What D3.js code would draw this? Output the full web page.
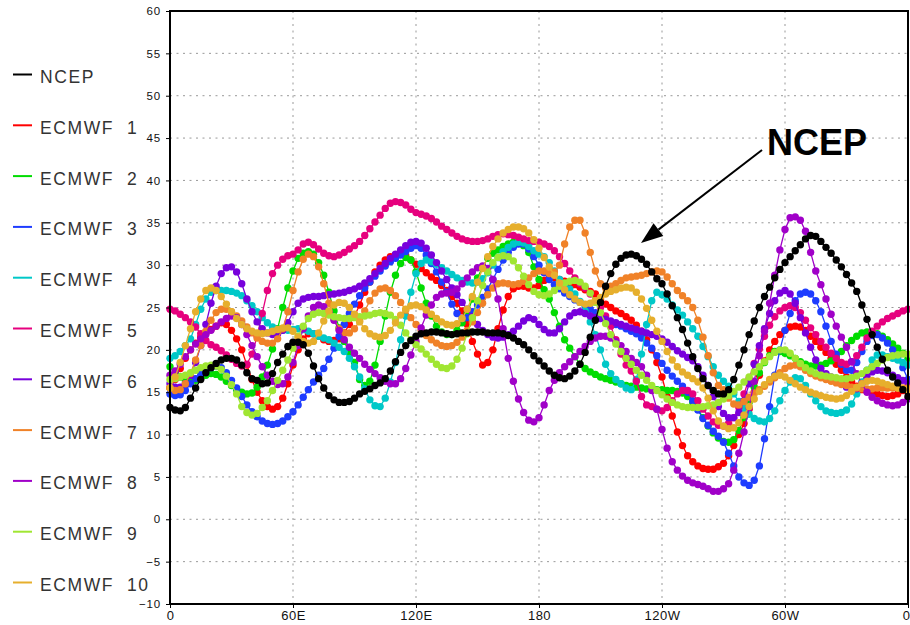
<!DOCTYPE html>
<html>
<head>
<meta charset="utf-8">
<script src="https://cdn.jsdelivr.net/npm/d3@7"></script>
<style>
  body { margin: 0; background: #fff; }
  svg { display: block; }
</style>
</head>
<body>
<svg id="chart" width="910" height="625"></svg>
<script>
// longitude grid, every 2.5 degrees from 0 to 360
const lons = d3.range(0, 360.1, 2.5);

const xTickValues = [0, 60, 120, 180, 240, 300, 360];
const xTickLabels = ["0", "60E", "120E", "180", "120W", "60W", "0"];
const yTickValues = d3.range(-10, 61, 5);

const seriesNames = [
  "NCEP", "ECMWF  1", "ECMWF  2", "ECMWF  3", "ECMWF  4", "ECMWF  5",
  "ECMWF  6", "ECMWF  7", "ECMWF  8", "ECMWF  9", "ECMWF  10"
];

const ncep = [
  13.2, 12.9, 12.8, 13.2, 14.3, 15.5, 16.5, 17.3, 17.9, 18.4,
  18.8, 19.0, 19.0, 18.8, 18.2, 17.3, 16.6, 16.4, 16.0, 16.1,
  17.2, 18.5, 19.5, 20.4, 20.9, 20.9, 20.6, 19.6, 18.1, 16.6,
  15.5, 14.6, 14.1, 13.8, 13.8, 13.9, 14.3, 14.8, 15.1, 15.4,
  15.8, 16.1, 16.6, 17.5, 18.6, 19.7, 20.5, 21.1, 21.6, 21.9,
  22.0, 22.1, 22.1, 22.0, 21.9, 21.8, 21.9, 22.0, 22.0, 22.1,
  22.1, 22.1, 22.0, 22.0, 22.0, 21.9, 21.7, 21.4, 21.0, 20.6,
  20.0, 19.3, 18.7, 18.1, 17.5, 17.0, 16.7, 16.6, 16.9, 17.5,
  18.3, 19.7, 21.5, 23.5, 25.6, 27.5, 29.0, 30.1, 30.8, 31.2,
  31.3, 31.1, 30.7, 30.1, 29.2, 28.4, 27.8, 26.6, 25.2, 23.8,
  22.4, 20.8, 19.2, 17.8, 16.6, 15.8, 15.2, 14.8, 14.8, 15.3,
  16.5, 18.2, 20.0, 21.8, 23.4, 25.0, 26.3, 27.4, 28.5, 29.5,
  30.3, 31.0, 31.7, 32.4, 33.1, 33.5, 33.4, 32.8, 32.1, 31.4,
  30.6, 29.8, 28.9, 27.9, 26.9, 25.3, 23.6, 21.8, 20.3, 18.9,
  17.6, 16.8, 16.1, 15.3, 14.5
];

const ecmwf1 = [
  15.5, 16.5, 17.8, 19.0, 20.0, 20.8, 21.5, 22.0, 22.4, 22.8,
  23.2, 23.0, 22.3, 21.3, 20.0, 18.2, 16.5, 15.0, 14.0, 13.3,
  13.0, 13.3, 14.3, 16.0, 18.2, 20.0, 21.3, 21.9, 21.9, 21.6,
  21.2, 21.0, 21.1, 21.3, 22.0, 23.0, 24.0, 25.3, 26.8, 28.0,
  29.2, 30.0, 30.6, 31.0, 31.2, 31.3, 31.1, 30.6, 30.1, 29.6,
  29.1, 28.6, 28.2, 27.6, 27.0, 26.3, 25.5, 24.6, 23.0, 21.0,
  19.5, 18.2, 18.5, 20.0, 22.5, 24.7, 26.3, 27.2, 27.5, 27.5,
  27.3, 27.3, 27.6, 28.2, 28.5, 28.5, 28.3, 28.1, 27.9, 27.7,
  27.4, 27.1, 26.9, 26.6, 26.0, 25.4, 25.0, 24.6, 24.3, 23.9,
  23.5, 22.9, 22.2, 21.2, 20.0, 18.5, 16.8, 14.5, 12.2, 10.3,
  8.7, 7.5, 6.8, 6.3, 6.0, 5.9, 5.9, 6.2, 6.6, 7.5,
  8.7, 10.0, 11.3, 13.0, 15.0, 17.0, 18.7, 20.0, 21.0, 21.8,
  22.3, 22.7, 22.8, 22.7, 22.3, 21.6, 21.0, 20.3, 19.7, 19.0,
  18.3, 17.6, 16.8, 16.2, 15.7, 15.3, 15.1, 15.0, 14.8, 14.6,
  14.5, 14.6, 14.8, 15.2, 15.6
];

const ecmwf2 = [
  18.0, 17.3, 16.8, 16.4, 16.3, 16.4, 16.7, 17.0, 17.2, 17.1,
  16.8, 16.3, 15.8, 15.3, 15.0, 14.8, 14.9, 15.6, 16.8, 18.2,
  20.1, 22.5, 25.0, 27.3, 29.3, 30.8, 31.4, 31.6, 31.3, 30.3,
  28.8, 26.8, 24.6, 22.6, 21.0, 19.7, 18.5, 16.5, 15.8, 16.3,
  18.2, 21.0, 24.0, 26.8, 28.8, 30.2, 30.9, 30.6, 29.2, 27.3,
  25.5, 24.0, 22.8, 22.1, 21.8, 21.8, 22.3, 23.2, 24.3, 26.0,
  28.5, 29.8, 30.8, 31.4, 31.8, 32.2, 32.5, 32.7, 32.6, 32.3,
  31.5, 29.8, 28.3, 27.1, 26.0, 24.4, 22.8, 21.2, 20.2, 19.2,
  18.3, 17.8, 17.4, 17.1, 16.8, 16.6, 16.4, 16.2, 16.0, 15.8,
  15.7, 15.6, 15.5, 15.4, 15.4, 15.3, 15.3, 15.2, 15.2, 15.1,
  14.9, 14.5, 13.8, 13.0, 12.0, 11.0, 10.2, 9.6, 9.2, 9.1,
  9.4, 10.5, 12.0, 13.8, 15.6, 17.3, 18.5, 19.3, 19.8, 19.8,
  19.6, 19.3, 19.0, 18.6, 18.3, 18.1, 18.1, 18.2, 18.4, 18.7,
  19.2, 19.8, 20.5, 21.1, 21.6, 22.0, 22.1, 22.1, 21.9, 21.6,
  21.2, 20.7, 20.2, 19.6, 19.0
];

const ecmwf3 = [
  14.8, 14.6, 14.7, 15.2, 16.0, 16.6, 17.1, 17.6, 17.9, 18.1,
  17.9, 17.3, 16.4, 15.5, 14.5, 13.5, 12.7, 12.1, 11.6, 11.3,
  11.2, 11.3, 11.6, 12.1, 12.7, 13.5, 14.4, 15.3, 16.2, 17.0,
  17.8, 18.9, 20.2, 21.6, 23.0, 24.3, 25.4, 26.4, 27.3, 28.0,
  28.7, 29.3, 29.9, 30.4, 30.8, 31.2, 31.6, 32.0, 32.3, 32.0,
  31.2, 30.2, 29.2, 28.0, 26.8, 25.4, 24.3, 23.7, 23.8, 24.5,
  25.3, 26.2, 27.2, 28.3, 29.5, 30.6, 31.5, 32.1, 32.5, 32.5,
  31.9, 31.0, 30.0, 29.1, 28.3, 27.7, 27.2, 26.7, 26.3, 25.9,
  25.6, 25.2, 24.8, 24.4, 24.0, 23.6, 23.3, 23.0, 22.8, 22.5,
  22.2, 21.9, 21.4, 20.8, 20.2, 19.3, 18.4, 17.6, 16.9, 16.3,
  15.7, 15.0, 14.0, 12.9, 11.9, 11.1, 10.4, 9.8, 9.1, 7.8,
  6.3, 5.0, 4.3, 4.0, 4.6, 6.3, 9.5, 13.3, 17.0, 20.0,
  22.3, 24.3, 25.8, 26.6, 26.8, 26.6, 25.8, 24.5, 22.8, 21.0,
  19.5, 18.3, 17.6, 17.6, 18.5, 19.8, 21.0, 21.7, 21.8, 21.4,
  20.8, 20.0, 19.1, 17.9, 16.5
];

const ecmwf4 = [
  19.0, 19.3, 19.8, 20.5, 21.3, 23.0, 24.8, 26.0, 26.8, 27.0,
  27.0, 27.0, 26.9, 26.7, 26.4, 25.8, 25.2, 24.5, 23.8, 23.2,
  22.7, 22.4, 22.3, 22.3, 22.4, 22.5, 22.4, 22.2, 21.9, 21.6,
  21.4, 21.2, 20.8, 20.3, 19.8, 19.0, 18.0, 16.8, 15.4, 14.1,
  13.4, 13.3, 14.3, 16.2, 18.5, 21.2, 24.0, 26.8, 29.0, 30.2,
  30.6, 30.4, 30.1, 29.7, 29.3, 28.9, 28.5, 28.2, 28.0, 27.9,
  28.0, 28.4, 29.1, 30.0, 30.9, 31.6, 32.1, 32.5, 32.7, 32.6,
  32.2, 31.7, 31.3, 31.0, 30.3, 29.3, 28.3, 27.6, 27.2, 26.6,
  25.7, 24.6, 23.3, 21.8, 20.0, 18.3, 17.2, 16.5, 16.0, 15.5,
  15.3, 16.5, 19.5, 23.0, 25.8, 26.8, 26.5, 26.0, 25.3, 24.7,
  24.1, 23.3, 22.5, 21.6, 20.4, 19.2, 18.0, 17.0, 16.3, 15.7,
  14.8, 13.9, 13.1, 12.4, 11.9, 11.6, 11.5, 11.9, 12.8, 14.0,
  15.2, 16.2, 16.7, 16.6, 15.8, 14.8, 14.0, 13.3, 12.8, 12.6,
  12.5, 12.6, 12.9, 13.6, 14.8, 16.2, 17.6, 18.8, 19.4, 19.4,
  19.2, 19.0, 18.8, 18.5, 18.2
];

const ecmwf5 = [
  24.8, 24.6, 24.2, 23.8, 23.3, 22.7, 21.9, 21.1, 20.6, 20.3,
  19.9, 19.4, 18.9, 18.4, 18.1, 18.3, 19.5, 21.6, 24.3, 27.0,
  29.0, 30.0, 30.7, 31.1, 31.3, 31.8, 32.5, 32.7, 32.4, 31.9,
  31.4, 31.1, 31.0, 31.2, 31.5, 31.9, 32.3, 32.8, 33.5, 34.3,
  35.1, 35.9, 36.7, 37.3, 37.5, 37.4, 37.1, 36.6, 36.2, 36.0,
  35.8, 35.5, 35.1, 34.6, 34.2, 33.8, 33.4, 33.1, 32.9, 32.8,
  32.8, 32.9, 33.1, 33.4, 33.6, 33.7, 33.6, 33.5, 33.3, 33.1,
  32.9, 32.8, 32.7, 32.5, 32.2, 31.7, 31.0, 30.2, 29.3, 28.5,
  27.8, 27.3, 26.6, 25.8, 25.0, 24.0, 22.8, 21.2, 19.5, 18.2,
  17.5, 16.3, 14.5, 13.5, 13.3, 13.0, 12.8, 13.2, 14.0, 14.8,
  15.2, 15.2, 14.8, 14.0, 13.0, 12.2, 11.5, 11.1, 11.0, 11.3,
  12.0, 13.2, 14.8, 16.6, 18.4, 20.1, 21.6, 22.9, 23.9, 24.6,
  25.0, 25.2, 25.0, 24.4, 23.5, 22.6, 21.8, 21.0, 20.3, 19.6,
  19.0, 18.5, 18.3, 18.6, 19.3, 20.3, 21.4, 22.2, 22.8, 23.3,
  23.7, 24.0, 24.3, 24.6, 24.8
];

const ecmwf6 = [
  16.0, 15.6, 15.6, 16.0, 17.0, 18.5, 20.5, 23.0, 25.5, 27.5,
  29.0, 29.7, 29.8, 29.2, 27.8, 26.0, 24.5, 23.3, 22.5, 22.0,
  21.8, 21.9, 22.3, 23.2, 24.5, 25.5, 26.0, 26.2, 26.3, 26.3,
  26.4, 26.5, 26.6, 26.7, 26.8, 27.0, 27.2, 27.5, 27.9, 28.4,
  29.0, 29.6, 30.2, 30.8, 31.3, 31.8, 32.3, 32.7, 32.8, 32.6,
  32.0, 31.2, 30.3, 29.3, 28.3, 27.3, 26.5, 25.6, 24.8, 23.9,
  23.0, 22.3, 21.8, 21.5, 21.4, 21.5, 21.8, 22.2, 22.8, 23.4,
  23.8, 23.6, 23.0, 22.4, 22.0, 22.0, 22.5, 23.3, 24.0, 24.4,
  24.5, 24.3, 24.0, 23.8, 23.7, 23.6, 23.4, 23.2, 23.0, 22.8,
  22.6, 22.4, 22.2, 22.0, 21.8, 21.6, 21.3, 20.9, 20.4, 19.9,
  19.5, 19.1, 18.7, 18.0, 17.0, 15.8, 14.5, 13.3, 12.5, 12.0,
  12.0, 12.6, 14.0, 16.0, 18.3, 20.5, 22.5, 24.3, 25.8, 26.7,
  27.0, 26.6, 25.5, 23.8, 22.0, 20.3, 18.8, 17.8, 17.2, 16.8,
  16.5, 16.1, 15.6, 15.3, 15.4, 16.0, 16.8, 17.4, 17.6, 17.5,
  17.3, 17.0, 16.7, 16.4, 16.0
];

const ecmwf7 = [
  15.5, 15.2, 15.3, 16.0, 17.2, 18.8, 20.5, 22.2, 23.5, 24.4,
  24.8, 24.8, 24.5, 24.0, 23.4, 22.7, 22.0, 21.4, 21.0, 20.8,
  20.8, 21.3, 22.5, 24.5, 27.0, 29.2, 30.7, 31.3, 31.0, 29.8,
  27.8, 25.5, 23.7, 22.5, 22.0, 22.0, 22.5, 23.4, 24.6, 25.8,
  26.7, 27.2, 27.3, 27.0, 26.4, 25.6, 24.7, 23.8, 23.0, 22.3,
  21.7, 21.2, 20.8, 20.5, 20.4, 20.5, 20.9, 21.5, 22.3, 23.3,
  24.4, 25.5, 26.5, 27.3, 27.8, 27.9, 27.8, 27.7, 27.8, 28.1,
  28.5, 29.0, 29.3, 29.3, 29.0, 29.2, 30.0, 32.5, 34.5, 35.3,
  35.3, 33.8, 31.5, 29.3, 27.8, 27.3, 27.5, 27.8, 28.2, 28.5,
  28.6, 28.7, 28.8, 29.0, 29.2, 29.3, 29.2, 28.6, 27.8, 27.0,
  26.4, 25.8, 25.0, 23.5, 21.5, 19.3, 17.3, 15.8, 15.3, 14.3,
  13.6, 13.5, 13.9, 14.4, 14.9, 15.3, 15.7, 16.2, 16.7, 17.3,
  17.8, 18.1, 18.2, 18.0, 17.6, 17.2, 16.9, 16.7, 16.5, 16.3,
  16.1, 15.9, 15.8, 15.6, 15.5, 15.4, 15.4, 15.4, 15.5, 15.5,
  15.5, 15.5, 15.5, 15.5, 15.5
];

const ecmwf8 = [
  17.0, 17.5, 18.3, 19.2, 20.0, 20.7, 21.3, 21.8, 22.3, 22.8,
  23.3, 23.7, 24.0, 23.8, 23.0, 21.8, 20.5, 19.2, 18.0, 17.0,
  16.3, 15.9, 16.0, 16.8, 18.5, 20.5, 22.5, 24.0, 25.0, 25.3,
  25.1, 24.5, 23.5, 22.3, 21.2, 20.3, 19.6, 19.0, 18.3, 17.7,
  17.2, 16.7, 16.3, 16.0, 16.0, 16.6, 17.8, 19.4, 21.0, 22.6,
  24.1, 25.3, 26.2, 26.6, 26.7, 26.8, 27.2, 27.8, 28.5, 29.2,
  29.7, 29.9, 29.6, 28.3, 26.0, 22.5, 19.0, 16.3, 14.2, 12.6,
  11.7, 11.5, 12.0, 13.5, 15.2, 16.4, 17.3, 18.0, 18.6, 19.2,
  19.8, 20.4, 21.0, 21.4, 21.6, 21.6, 21.4, 21.0, 20.5, 19.8,
  19.0, 18.5, 18.0, 17.0, 15.2, 13.0, 10.6, 8.4, 6.8, 5.8,
  5.1, 4.6, 4.3, 4.1, 3.9, 3.6, 3.3, 3.3, 3.6, 4.2,
  5.8, 7.8, 10.3, 13.2, 16.3, 19.3, 22.2, 25.5, 28.8, 31.8,
  34.2, 35.6, 35.7, 35.3, 34.0, 31.5, 29.3, 27.7, 26.0, 24.2,
  22.8, 21.5, 20.3, 18.6, 17.2, 16.0, 15.0, 14.4, 14.0, 13.7,
  13.5, 13.4, 13.5, 13.8, 14.2
];

const ecmwf9 = [
  16.5, 16.6, 16.8, 17.0, 17.3, 17.6, 17.9, 18.1, 18.2, 18.1,
  17.7, 16.9, 15.9, 14.8, 13.3, 12.6, 12.3, 12.5, 13.2, 14.0,
  15.2, 16.4, 17.6, 18.8, 20.2, 21.6, 22.8, 23.7, 24.2, 24.4,
  24.3, 24.1, 23.9, 23.8, 23.7, 23.7, 23.8, 23.9, 24.0, 24.1,
  24.3, 24.4, 24.3, 24.1, 23.6, 22.9, 22.0, 21.2, 20.6, 20.1,
  19.5, 18.9, 18.3, 17.9, 17.8, 18.1, 18.9, 20.2, 21.9, 23.8,
  25.8, 27.6, 29.2, 30.3, 30.9, 31.1, 31.0, 30.5, 29.7, 28.7,
  27.7, 26.9, 26.5, 26.4, 26.6, 27.0, 27.5, 27.9, 28.1, 28.2,
  28.0, 27.5, 26.7, 25.6, 24.4, 23.1, 21.8, 20.7, 19.8, 19.0,
  18.3, 17.6, 17.0, 16.4, 15.8, 15.2, 14.7, 14.2, 13.8, 13.5,
  13.3, 13.2, 13.2, 13.2, 13.3, 13.4, 13.5, 13.8, 14.2, 14.6,
  15.1, 15.6, 16.2, 16.8, 17.4, 18.0, 18.6, 19.2, 19.7, 20.0,
  20.0, 19.6, 19.0, 18.4, 17.9, 17.5, 17.2, 17.0, 16.9, 16.8,
  16.7, 16.6, 16.6, 16.7, 16.9, 17.2, 17.6, 18.0, 18.4, 18.8,
  19.1, 19.3, 19.4, 19.5, 19.5
];

const ecmwf10 = [
  15.5, 16.8, 18.5, 20.5, 22.5, 24.5, 26.0, 27.0, 27.3, 27.0,
  26.3, 25.4, 24.5, 23.7, 23.0, 22.5, 22.2, 22.0, 21.9, 22.0,
  22.2, 22.4, 22.6, 22.6, 22.2, 21.5, 21.0, 20.8, 21.0, 22.0,
  23.4, 24.6, 25.3, 25.6, 25.5, 25.0, 24.2, 23.3, 22.5, 21.9,
  21.6, 21.5, 21.7, 22.3, 23.2, 24.1, 24.8, 25.2, 25.3, 25.1,
  24.7, 24.2, 23.7, 23.3, 23.0, 22.9, 23.1, 23.7, 24.8, 26.3,
  28.0, 29.6, 31.0, 32.2, 33.1, 33.8, 34.2, 34.5, 34.5, 34.3,
  33.8, 33.0, 32.0, 30.9, 29.8, 28.8, 27.9, 27.1, 26.5, 26.0,
  25.6, 25.4, 25.5, 25.8, 26.2, 26.6, 26.9, 27.1, 27.3, 27.4,
  27.3, 26.8, 26.0, 24.9, 23.5, 22.2, 21.0, 19.8, 18.8, 18.0,
  17.4, 17.0, 16.6, 16.2, 15.5, 14.3, 12.8, 11.6, 11.0, 10.7,
  10.8, 11.4, 12.3, 13.3, 14.2, 15.1, 15.9, 16.5, 16.9, 17.0,
  16.8, 16.4, 16.0, 15.6, 15.3, 15.0, 14.8, 14.6, 14.4, 14.3,
  14.2, 14.3, 14.6, 15.1, 15.6, 16.0, 16.3, 16.4, 16.3, 16.1,
  15.9, 15.7, 15.5, 15.4, 15.3
];

const seriesValues = [
  ncep, ecmwf1, ecmwf2, ecmwf3, ecmwf4, ecmwf5,
  ecmwf6, ecmwf7, ecmwf8, ecmwf9, ecmwf10
];

// GrADS-like default colours
const seriesColors = [
  "#000000", "#ff0000", "#00dc00", "#1e3cff", "#00c8c8", "#e6007e",
  "#7800dc", "#f08228", "#a000c8", "#a0e632", "#e6af2d"
];

const series = seriesNames.map((name, i) => ({
  name: name,
  color: seriesColors[i],
  points: lons.map((lon, j) => ({ lon: lon, value: seriesValues[i][j] }))
}));

const svg = d3.select("#chart");
const plot = { left: 170, right: 908, top: 11, bottom: 604 };

const x = d3.scaleLinear().domain([0, 360]).range([plot.left, plot.right]);
const y = d3.scaleLinear().domain([-10, 60]).range([plot.bottom, plot.top]);

const gridLayer = svg.append("g").attr("class", "grid");
const seriesLayer = svg.append("g").attr("class", "series");
const axisLayer = svg.append("g").attr("class", "axes");
const legendLayer = svg.append("g").attr("class", "legend");
const noteLayer = svg.append("g").attr("class", "note");

// dotted grid
gridLayer
  .selectAll("line.h")
  .data(yTickValues.slice(1, -1))
  .join("line")
  .attr("class", "h")
  .attr("x1", plot.left)
  .attr("x2", plot.right)
  .attr("y1", (d) => y(d))
  .attr("y2", (d) => y(d));

gridLayer
  .selectAll("line.v")
  .data(xTickValues.slice(1, -1))
  .join("line")
  .attr("class", "v")
  .attr("x1", (d) => x(d))
  .attr("x2", (d) => x(d))
  .attr("y1", plot.top)
  .attr("y2", plot.bottom);

gridLayer
  .selectAll("line")
  .attr("stroke", "#999")
  .attr("stroke-width", 1)
  .attr("stroke-dasharray", "2,4.5");

// lines + dots; members first, NCEP on top
const line = d3
  .line()
  .x((d) => x(d.lon))
  .y((d) => y(d.value));

const drawOrder = series.slice(1).concat([series[0]]);

const groups = seriesLayer
  .selectAll("g.member")
  .data(drawOrder)
  .join("g")
  .attr("class", "member");

groups
  .append("path")
  .attr("d", (d) => line(d.points))
  .attr("fill", "none")
  .attr("stroke", (d) => d.color)
  .attr("stroke-width", 1.3);

groups.each(function (d) {
  d3.select(this)
    .selectAll("circle")
    .data(d.points)
    .join("circle")
    .attr("cx", (p) => x(p.lon))
    .attr("cy", (p) => y(p.value))
    .attr("r", 3.7)
    .attr("fill", d.color);
});

// axes
const fmtY = (d) => (d < 0 ? "\u2212" + Math.abs(d) : String(d));

const yAxis = axisLayer
  .append("g")
  .attr("transform", `translate(${plot.left},0)`)
  .call(
    d3.axisLeft(y).tickValues(yTickValues).tickFormat(fmtY).tickSize(4).tickPadding(5)
  );

const xAxis = axisLayer
  .append("g")
  .attr("transform", `translate(0,${plot.bottom})`)
  .call(
    d3
      .axisBottom(x)
      .tickValues(xTickValues)
      .tickFormat((d, i) => xTickLabels[i])
      .tickSize(4)
      .tickPadding(3)
  );

axisLayer.selectAll(".domain").remove();
axisLayer.selectAll(".tick line").attr("stroke", "#000").attr("stroke-width", 1);
yAxis
  .selectAll("text")
  .attr("font-family", "Liberation Sans, Arial, sans-serif")
  .attr("font-size", 11.5)
  .attr("letter-spacing", 0.8)
  .attr("fill", "#111");
xAxis
  .selectAll("text")
  .attr("font-family", "Liberation Sans, Arial, sans-serif")
  .attr("font-size", 13)
  .attr("letter-spacing", 0.5)
  .attr("fill", "#111");

// the last "0" sits on the right edge; keep it inside the page
xAxis
  .selectAll(".tick")
  .filter((d, i) => i === xTickValues.length - 1)
  .select("text")
  .attr("text-anchor", "end")
  .attr("dx", 2);

// frame
axisLayer
  .append("rect")
  .attr("x", plot.left)
  .attr("y", plot.top)
  .attr("width", plot.right - plot.left)
  .attr("height", plot.bottom - plot.top)
  .attr("fill", "none")
  .attr("stroke", "#000")
  .attr("stroke-width", 2);

// legend on the left
const legendY = (i) => 74.5 + i * 50.8;

const items = legendLayer
  .selectAll("g.item")
  .data(series)
  .join("g")
  .attr("class", "item")
  .attr("transform", (d, i) => `translate(0,${legendY(i)})`);

items
  .append("line")
  .attr("x1", 13)
  .attr("x2", 32)
  .attr("stroke", (d) => d.color)
  .attr("stroke-width", 2);

items
  .append("text")
  .attr("x", 40)
  .attr("y", 8.5)
  .attr("font-family", "Liberation Sans, Arial, sans-serif")
  .attr("font-size", 17.5)
  .attr("letter-spacing", 1.6)
  .attr("fill", "#333")
  .style("white-space", "pre")
  .text((d) => d.name);

// NCEP callout with arrow
noteLayer
  .append("text")
  .attr("x", 767)
  .attr("y", 155)
  .attr("font-family", "Liberation Sans, Arial, sans-serif")
  .attr("font-weight", "bold")
  .attr("font-size", 36)
  .attr("fill", "#000")
  .text("NCEP");

const from = [762, 150];
const tip = [641, 243];
const dx = tip[0] - from[0];
const dy = tip[1] - from[1];
const len = Math.hypot(dx, dy);
const ux = dx / len;
const uy = dy / len;
const headLen = 22;
const headHalf = 8;
const base = [tip[0] - ux * headLen, tip[1] - uy * headLen];

noteLayer
  .append("line")
  .attr("x1", from[0])
  .attr("y1", from[1])
  .attr("x2", base[0])
  .attr("y2", base[1])
  .attr("stroke", "#000")
  .attr("stroke-width", 2);

noteLayer
  .append("polygon")
  .attr(
    "points",
    [
      tip,
      [base[0] - uy * headHalf, base[1] + ux * headHalf],
      [base[0] + uy * headHalf, base[1] - ux * headHalf]
    ]
      .map((p) => p.join(","))
      .join(" ")
  )
  .attr("fill", "#000");
</script>
</body>
</html>
